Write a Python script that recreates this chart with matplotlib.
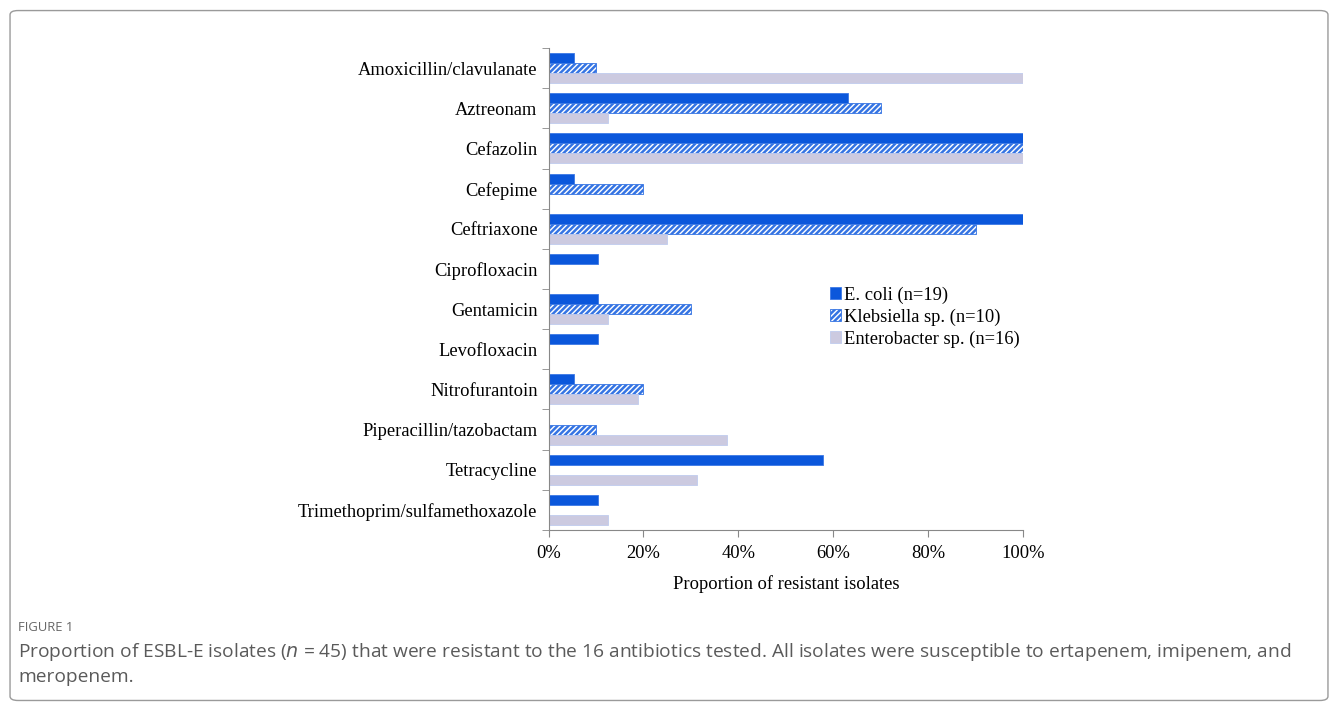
import matplotlib.pyplot as plt
import numpy as np
from matplotlib.patches import FancyBboxPatch
from matplotlib.ticker import PercentFormatter

drugs = ["Amoxicillin/clavulanate", "Aztreonam", "Cefazolin", "Cefepime",
         "Ceftriaxone", "Ciprofloxacin", "Gentamicin", "Levofloxacin",
         "Nitrofurantoin", "Piperacillin/tazobactam", "Tetracycline",
         "Trimethoprim/sulfamethoxazole"]
ecoli = [5.3, 63.2, 100, 5.3, 100, 10.5, 10.5, 10.5, 5.3, 0, 57.9, 10.5]
klebs = [10, 70, 100, 20, 90, 0, 30, 0, 20, 10, 0, 0]
entero = [100, 12.5, 100, 0, 25, 0, 12.5, 0, 18.75, 37.5, 31.25, 12.5]
series_names = ["E. coli (n=19)", "Klebsiella sp. (n=10)", "Enterobacter sp. (n=16)"]

plt.rcParams['hatch.linewidth'] = 1.8
fs = 13.3

fig = plt.figure(figsize=(13.38, 7.04), dpi=100)
ax = fig.add_axes([0.410, 0.2472, 0.3546, 0.6846])

y = np.arange(len(drugs))
h = 0.25
ax.barh(y - h, ecoli, height=h, color="#0B57DB", edgecolor="#3C78E6", linewidth=0.6,
        label=series_names[0])
ax.barh(y, klebs, height=h, color="white", edgecolor="#3574E3", hatch="//////",
        linewidth=0.6, label=series_names[1])
ax.barh(y + h, entero, height=h, color="#CCCAE0", edgecolor="#BFCBEE", linewidth=0.6,
        label=series_names[2])

ax.set_ylim(len(drugs) - 0.5, -0.5)
ax.set_xlim(0, 100)
ax.set_yticks(y)
ax.set_yticklabels(drugs)
ax.set_yticks(np.arange(len(drugs) + 1) - 0.5, minor=True)
ax.tick_params(axis='y', which='major', length=0, pad=8)
ax.tick_params(axis='y', which='minor', length=5, color="#888888")
ax.set_xticks(np.arange(0, 101, 20))
ax.xaxis.set_major_formatter(PercentFormatter(decimals=0))
ax.tick_params(axis='x', length=5, color="#888888", pad=6)
for lab in ax.get_xticklabels() + ax.get_yticklabels():
    lab.set_fontfamily("Liberation Serif")
    lab.set_fontsize(fs)
ax.set_xlabel("Proportion of resistant isolates", fontfamily="Liberation Serif",
              fontsize=fs, labelpad=9)
for s in ["top", "right"]:
    ax.spines[s].set_visible(False)
for s in ["left", "bottom"]:
    ax.spines[s].set_color("#888888")

ax.legend(loc="upper left", bbox_to_anchor=(0.593, 0.505), frameon=False,
          borderpad=0, borderaxespad=0,
          handlelength=0.6, handleheight=0.6, handletextpad=0.15, labelspacing=0.25,
          prop={"family": "Liberation Serif", "size": fs})

# outer frame and caption
frame = FancyBboxPatch((0.0075, 0.005), 0.985, 0.98, boxstyle="round,pad=0,rounding_size=0.006",
                       transform=fig.transFigure, facecolor="none", edgecolor="#9A9A9A",
                       linewidth=1.0)
fig.patches.append(frame)
fig.text(0.0135, 0.108, "FIGURE 1", fontfamily="Open Sans", fontsize=9.4, color="#666666",
         va="center")
fig.text(0.0135, 0.074, "Proportion of ESBL-E isolates ($\\it{n}$ = 45) that were resistant to the 16 "
         "antibiotics tested. All isolates were susceptible to ertapenem, imipenem, and",
         fontfamily="Open Sans", fontsize=13.8, color="#5a5a5a", va="center")
fig.text(0.0135, 0.038, "meropenem.", fontfamily="Open Sans", fontsize=13.8, color="#5a5a5a",
         va="center")

plt.savefig("out.png", dpi=100)
